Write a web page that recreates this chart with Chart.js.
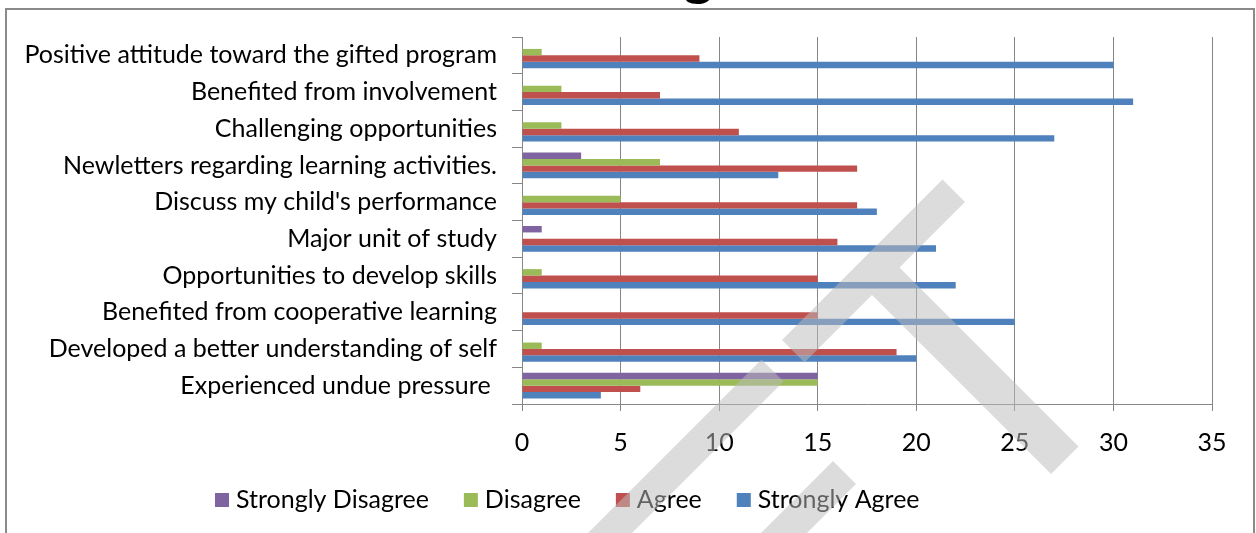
<!DOCTYPE html>
<html><head><meta charset="utf-8">
<script src="https://cdn.jsdelivr.net/npm/chart.js@4/dist/chart.umd.min.js"></script>
<style>html,body{margin:0;padding:0;background:#fff;overflow:hidden}#wrap{position:relative;width:1256px;height:533px}</style>
</head><body><div id="wrap"><canvas id="c" width="1256" height="533"></canvas></div>
<script>
const categories = [
  "Positive attitude toward the gifted program",
  "Benefited from involvement",
  "Challenging opportunities",
  "Newletters regarding learning activities.",
  "Discuss my child's performance",
  "Major unit of study",
  "Opportunities to develop skills",
  "Benefited from cooperative learning",
  "Developed a better understanding of self",
  "Experienced undue pressure "
];
const seriesNames = ["Strongly Disagree", "Disagree", "Agree", "Strongly Agree"];
const stronglyDisagree = [0, 0, 0, 3, 0, 1, 0, 0, 0, 15];
const disagree         = [1, 2, 2, 7, 5, 0, 1, 0, 1, 15];
const agree            = [9, 7, 11, 17, 17, 16, 15, 15, 19, 6];
const stronglyAgree    = [30, 31, 27, 13, 18, 21, 22, 25, 20, 4];
const xTickValues = [0, 5, 10, 15, 20, 25, 30, 35];

const colors = ["#8064A2", "#9BBB59", "#C0504D", "#4F81BD"];
const FONT = "Lato";
const FS = 25;

const seriesValues = [stronglyDisagree, disagree, agree, stronglyAgree];
const datasets = seriesNames.map((name, i) => ({
  label: name,
  data: seriesValues[i],
  backgroundColor: colors[i],
  borderWidth: 0,
  barPercentage: 1.0,
  categoryPercentage: 0.70
}));

function uvPoly(ctx, u0, u1, v0, v1) {
  const pts = [[u0, v0], [u0, v1], [u1, v1], [u1, v0]];
  pts.forEach(([u, v], k) => {
    const x = (u + v) / 2, y = (u - v) / 2;
    if (k === 0) ctx.moveTo(x, y); else ctx.lineTo(x, y);
  });
  ctx.closePath();
}

const decor = {
  id: "decor",
  beforeDraw(chart) {
    const ctx = chart.ctx;
    ctx.save();
    ctx.fillStyle = "#fff";
    ctx.fillRect(0, 0, chart.width, chart.height);
    ctx.restore();
  },
  afterDraw(chart) {
    const ctx = chart.ctx;
    ctx.save();
    // legend
    let x = 215;
    const yc = 500;
    ctx.font = FS + "px " + FONT;
    ctx.textBaseline = "middle";
    ctx.textAlign = "left";
    chart.data.datasets.forEach(ds => {
      ctx.fillStyle = ds.backgroundColor;
      ctx.fillRect(x, yc - 7, 14, 14);
      x += 14 + 7;
      ctx.fillStyle = "#000";
      ctx.fillText(ds.label, x, yc);
      x += ctx.measureText(ds.label).width + 35;
    });
    // watermark
    ctx.fillStyle = "rgba(188,188,188,0.52)";
    ctx.beginPath();
    uvPoly(ctx, 1122, 1167, 442, 763);
    uvPoly(ctx, 1167, 1525, 577, 632);
    uvPoly(ctx, 1121, 1165, -300, 402);
    uvPoly(ctx, 1294, 1340, -300, 372);
    ctx.fill("nonzero");
    // frame
    ctx.fillStyle = "#8a8a8a";
    ctx.fillRect(5, 8, 1250, 2);
    ctx.fillRect(5, 8, 2, 530);
    ctx.fillRect(1253, 8, 2, 530);
    // cut-off title glyph
    ctx.fillStyle = "#000";
    ctx.font = "bold 60px 'Liberation Sans'";
    ctx.textAlign = "center";
    ctx.textBaseline = "alphabetic";
    ctx.fillText("g", 698, -8);
    ctx.restore();
  }
};

new Chart(document.getElementById("c"), {
  type: "bar",
  data: { labels: categories, datasets },
  options: {
    indexAxis: "y",
    responsive: false,
    devicePixelRatio: 1,
    animation: false,
    layout: { padding: { left: 0, right: 44, top: 37, bottom: 69 } },
    plugins: { legend: { display: false }, tooltip: { enabled: false } },
    scales: {
      x: {
        min: 0, max: 35,
        afterBuildTicks(s) { s.ticks = xTickValues.map(v => ({ value: v })); },
        ticks: { color: "#000", font: { family: FONT, size: FS }, padding: 17 },
        grid: { color: "#868686", tickLength: 7, lineWidth: 1 },
        border: { color: "#868686" },
        afterFit(s) { s.height = 60; }
      },
      y: {
        ticks: { color: "#000", font: { family: FONT, size: FS }, padding: 15 },
        grid: { drawOnChartArea: false, tickLength: 10, color: "#868686", offset: true },
        border: { color: "#868686" },
        afterFit(s) { s.width = 522; }
      }
    }
  },
  plugins: [decor]
});
</script>
</body></html>
